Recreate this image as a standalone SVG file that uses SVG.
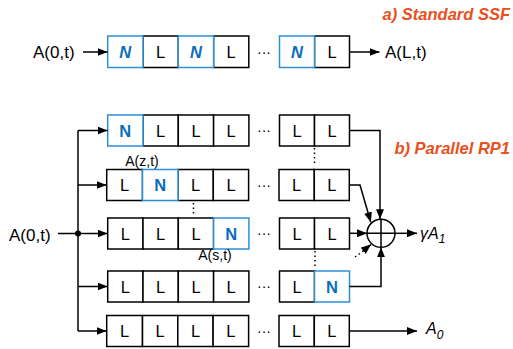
<svg xmlns="http://www.w3.org/2000/svg" width="513" height="349" viewBox="0 0 513 349">
  <defs>
    <marker id="arr" viewBox="0 0 10 8" refX="10" refY="4" markerWidth="10" markerHeight="8" markerUnits="userSpaceOnUse" orient="auto">
      <path d="M0,0 L10,4 L0,8 Z" fill="#000"/>
    </marker>
    <style>
      text { font-family: "Liberation Sans", Arial, sans-serif; fill: #000; }
      .box { fill: #fff; stroke: #000; stroke-width: 1.5; }
      .nbox { fill: #fff; stroke: #2b8fd6; stroke-width: 1.5; }
      .lt { font-size: 16.5px; text-anchor: middle; }
      .nt { font-size: 16.5px; font-weight: bold; fill: #0a6ebd; text-anchor: middle; }
      .ni { font-size: 16.5px; font-weight: bold; font-style: italic; fill: #0a6ebd; text-anchor: middle; }
      .lbl { font-size: 17px; }
      .sm { font-size: 14px; text-anchor: middle; }
      .title { font-size: 16.5px; font-weight: bold; font-style: italic; fill: #e8501c; text-anchor: end; }
      .dots { font-size: 14px; text-anchor: middle; }
      .wire { fill: none; stroke: #000; stroke-width: 1.5; }
      .dot { fill: none; stroke: #000; stroke-width: 1.5; stroke-dasharray: 1.5 3; }
    </style>
  </defs>

  <!-- section titles -->
  <text class="title" x="510" y="19.5">a) Standard SSF</text>
  <text class="title" x="510" y="153.5">b) Parallel RP1</text>

  <!-- a) standard split-step chain -->
  <g id="ssf">
    <text class="lbl" x="33" y="58">A(0,t)</text>
    <rect class="box" x="143" y="36" width="35.3" height="31.5"/>
    <rect class="box" x="213.5" y="36" width="35.3" height="31.5"/>
    <rect class="box" x="314.5" y="36" width="35" height="31.5"/>
    <rect class="nbox" x="107.7" y="36" width="35.3" height="31.5"/>
    <rect class="nbox" x="178.3" y="36" width="35.3" height="31.5"/>
    <rect class="nbox" x="279.5" y="36" width="35" height="31.5"/>
    <text class="ni" x="125.3" y="58">N</text>
    <text class="lt" x="160.6" y="58">L</text>
    <text class="ni" x="196" y="58">N</text>
    <text class="lt" x="231.2" y="58">L</text>
    <text class="dots" x="264" y="57">···</text>
    <text class="ni" x="297" y="58">N</text>
    <text class="lt" x="332" y="58">L</text>
    <text class="lbl" x="385" y="58">A(L,t)</text>
  </g>

  <!-- b) parallel branches -->
  <g id="branch1">
    <rect class="box" x="143" y="115" width="35.3" height="31"/>
    <rect class="box" x="178.3" y="115" width="35.3" height="31"/>
    <rect class="box" x="213.6" y="115" width="35.3" height="31"/>
    <rect class="nbox" x="107.7" y="115" width="35.3" height="31"/>
    <rect class="box" x="279.5" y="115" width="35" height="31"/>
    <rect class="box" x="314.5" y="115" width="35" height="31"/>
    <text class="nt" x="125.3" y="136.5">N</text>
    <text class="lt" x="160.6" y="136.5">L</text>
    <text class="lt" x="196" y="136.5">L</text>
    <text class="lt" x="231.2" y="136.5">L</text>
    <text class="dots" x="264" y="135">···</text>
    <text class="lt" x="297" y="136.5">L</text>
    <text class="lt" x="332" y="136.5">L</text>
  </g>

  <g id="branch2">
    <text class="sm" x="142" y="166">A(z,t)</text>
    <rect class="box" x="106.7" y="169.5" width="35.8" height="31"/>
    <rect class="box" x="178" y="169.5" width="35.3" height="31"/>
    <rect class="box" x="213.3" y="169.5" width="35.3" height="31"/>
    <rect class="nbox" x="142.5" y="169.5" width="35.5" height="31"/>
    <rect class="box" x="279" y="169.5" width="35.3" height="31"/>
    <rect class="box" x="314.3" y="169.5" width="35" height="31"/>
    <text class="lt" x="124.6" y="191">L</text>
    <text class="nt" x="160.2" y="191">N</text>
    <text class="lt" x="195.6" y="191">L</text>
    <text class="lt" x="231" y="191">L</text>
    <text class="dots" x="264" y="189.5">···</text>
    <text class="lt" x="296.6" y="191">L</text>
    <text class="lt" x="331.8" y="191">L</text>
  </g>

  <g id="branch3">
    <rect class="box" x="107.7" y="218" width="35.3" height="31"/>
    <rect class="box" x="143" y="218" width="35.3" height="31"/>
    <rect class="box" x="178.3" y="218" width="35.3" height="31"/>
    <rect class="nbox" x="213.6" y="218" width="35.3" height="31"/>
    <rect class="box" x="279.5" y="218" width="35" height="31"/>
    <rect class="box" x="314.5" y="218" width="35" height="31"/>
    <text class="lt" x="125.3" y="239.5">L</text>
    <text class="lt" x="160.6" y="239.5">L</text>
    <text class="lt" x="196" y="239.5">L</text>
    <text class="nt" x="231.2" y="239.5">N</text>
    <text class="dots" x="264" y="238">···</text>
    <text class="lt" x="297" y="239.5">L</text>
    <text class="lt" x="332" y="239.5">L</text>
    <text class="sm" x="215" y="260">A(s,t)</text>
  </g>

  <g id="branch4">
    <rect class="box" x="107.7" y="271" width="35.3" height="31"/>
    <rect class="box" x="143" y="271" width="35.3" height="31"/>
    <rect class="box" x="178.3" y="271" width="35.3" height="31"/>
    <rect class="box" x="213.6" y="271" width="35.3" height="31"/>
    <rect class="box" x="279.5" y="271" width="35" height="31"/>
    <rect class="nbox" x="314.5" y="271" width="35" height="31"/>
    <text class="lt" x="125.3" y="292.5">L</text>
    <text class="lt" x="160.6" y="292.5">L</text>
    <text class="lt" x="196" y="292.5">L</text>
    <text class="lt" x="231.2" y="292.5">L</text>
    <text class="dots" x="264" y="291">···</text>
    <text class="lt" x="297" y="292.5">L</text>
    <text class="nt" x="332" y="292.5">N</text>
  </g>

  <g id="branch5">
    <rect class="box" x="106.7" y="315.5" width="35.8" height="31"/>
    <rect class="box" x="142.5" y="315.5" width="35.3" height="31"/>
    <rect class="box" x="177.8" y="315.5" width="35.3" height="31"/>
    <rect class="box" x="213.1" y="315.5" width="35.5" height="31"/>
    <rect class="box" x="279" y="315.5" width="35.3" height="31"/>
    <rect class="box" x="314.3" y="315.5" width="35" height="31"/>
    <text class="lt" x="124.6" y="337">L</text>
    <text class="lt" x="160.2" y="337">L</text>
    <text class="lt" x="195.5" y="337">L</text>
    <text class="lt" x="230.8" y="337">L</text>
    <text class="dots" x="264" y="335.5">···</text>
    <text class="lt" x="296.6" y="337">L</text>
    <text class="lt" x="331.8" y="337">L</text>
  </g>

  <!-- summing node -->
  <g id="sum">
    <circle cx="381" cy="233.3" r="14" fill="#fff" stroke="#000" stroke-width="1.5"/>
    <path class="wire" d="M367,233.3 H395 M381,219.3 V247.3"/>
  </g>

  <!-- input, outputs and labels -->
  <g id="input">
    <text class="lbl" x="9" y="240.5">A(0,t)</text>
  </g>
  <g id="out1">
    <text x="420" y="239" font-size="16" font-style="italic">γA<tspan font-size="12" dy="4">1</tspan></text>
  </g>
  <g id="out0">
    <text x="426" y="334" font-size="16" font-style="italic">A<tspan font-size="12" dy="5">0</tspan></text>
  </g>

  <!-- connectors -->
  <g id="connectors">
    <path class="wire" d="M83,52 H107.5" marker-end="url(#arr)"/>
    <path class="wire" d="M349.5,52 H379.5" marker-end="url(#arr)"/>

    <path class="wire" d="M58,233.5 H78"/>
    <path class="wire" d="M78,130.5 V331"/>
    <path class="wire" d="M78,130.5 H107.5" marker-end="url(#arr)"/>
    <path class="wire" d="M78,185 H106.5" marker-end="url(#arr)"/>
    <path class="wire" d="M78,233.5 H107.5" marker-end="url(#arr)"/>
    <path class="wire" d="M78,286.5 H107.5" marker-end="url(#arr)"/>
    <path class="wire" d="M78,331 H106.5" marker-end="url(#arr)"/>
    <circle cx="78" cy="233.5" r="3" fill="#000"/>

    <path class="wire" d="M349.5,130.5 H380 V219.3" marker-end="url(#arr)"/>
    <path class="wire" d="M349.3,185 H360 L370.8,222.3" marker-end="url(#arr)"/>
    <path class="wire" d="M349.5,233.3 H367" marker-end="url(#arr)"/>
    <path class="wire" d="M349.5,286.5 H381 V247.3" marker-end="url(#arr)"/>
    <path class="dot" d="M355,257 L364,250.5"/>
    <path class="wire" d="M363,251 L371,244.5" marker-end="url(#arr)"/>
    <path class="wire" d="M395,233.3 H417" marker-end="url(#arr)"/>
    <path class="wire" d="M349.3,331 H417" marker-end="url(#arr)"/>

    <path class="dot" d="M314.5,148 V166"/>
    <path class="dot" d="M193.5,203 V216"/>
    <path class="dot" d="M315,251 V268"/>
  </g>
</svg>
